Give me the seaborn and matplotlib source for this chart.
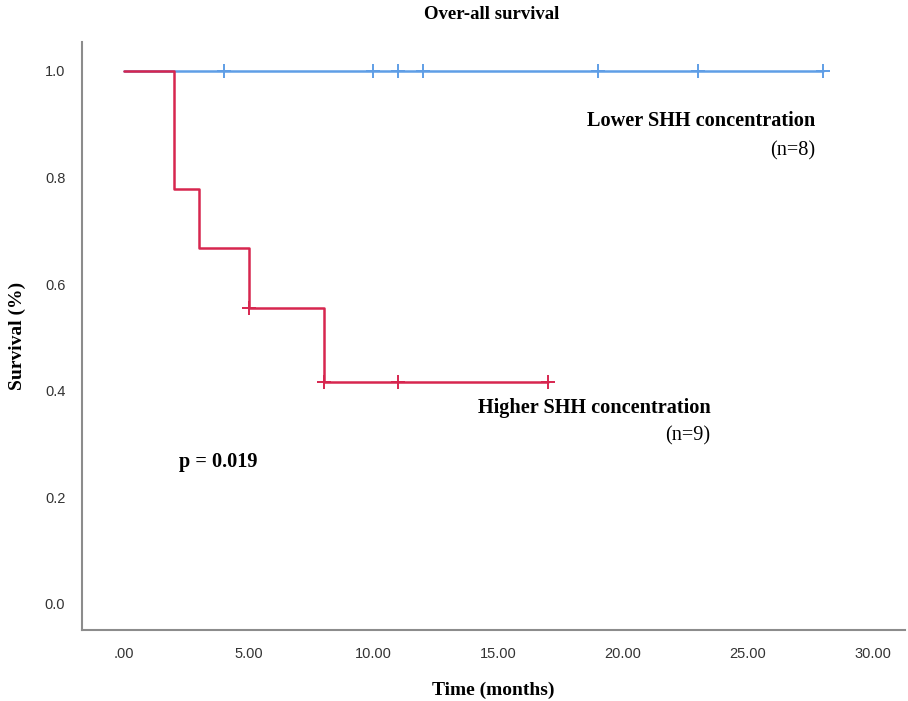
import pandas as pd
import matplotlib
matplotlib.use('Agg')
import matplotlib.pyplot as plt
import seaborn as sns

# step curves (time in months, survival)
low_time = [0, 28]
low_surv = [1.0, 1.0]
low_cens_time = [4, 10, 11, 12, 19, 23, 28]
low_cens_surv = [1.0, 1.0, 1.0, 1.0, 1.0, 1.0, 1.0]

high_time = [0, 2, 3, 5, 8, 17]
high_surv = [1.0, 0.778, 0.667, 0.556, 0.417, 0.417]
high_cens_time = [5, 8, 11, 17]
high_cens_surv = [0.556, 0.417, 0.417, 0.417]

x_ticks = [0, 5, 10, 15, 20, 25, 30]
x_labels = ['.00', '5.00', '10.00', '15.00', '20.00', '25.00', '30.00']
y_ticks = [0.0, 0.2, 0.4, 0.6, 0.8, 1.0]

blue = '#5f9ee6'
red = '#d7264f'
serif = 'Liberation Serif'
sans = 'Liberation Sans'

sns.set_style('white')
plt.rcParams['text.color'] = 'black'
plt.rcParams['axes.labelcolor'] = 'black'

fig = plt.figure(figsize=(9.08, 7.01), dpi=100)
ax = fig.add_axes([0.0903, 0.1013, 0.9064, 0.8387])

low = pd.DataFrame({'t': low_time, 's': low_surv})
high = pd.DataFrame({'t': high_time, 's': high_surv})
sns.lineplot(data=low, x='t', y='s', ax=ax, color=blue, linewidth=1.8,
             drawstyle='steps-post', estimator=None)
sns.lineplot(data=high, x='t', y='s', ax=ax, color=red, linewidth=1.8,
             drawstyle='steps-post', estimator=None)
sns.scatterplot(x=low_cens_time, y=low_cens_surv, ax=ax, marker='+', s=100,
                color=blue, linewidth=1.4, zorder=3)
sns.scatterplot(x=high_cens_time, y=high_cens_surv, ax=ax, marker='+', s=100,
                color=red, linewidth=1.4, zorder=3)

ax.set_xlim(-1.68, 31.3)
ax.set_ylim(-0.049, 1.054)
ax.set_xticks(x_ticks)
ax.set_xticklabels(x_labels)
ax.set_yticks(y_ticks)
ax.set_yticklabels([f'{v:.1f}' for v in y_ticks])
ax.tick_params(axis='both', length=0, labelsize=10.5, labelcolor='#333333', pad=12)
for lab in ax.get_xticklabels() + ax.get_yticklabels():
    lab.set_fontfamily(sans)

sns.despine(ax=ax)
for side in ['left', 'bottom']:
    ax.spines[side].set_color('#8c8c8c')
    ax.spines[side].set_linewidth(1.5)

ax.set_xlabel('Time (months)', fontsize=14, fontweight='bold', family=serif)
ax.set_ylabel('Survival (%)', fontsize=14, fontweight='bold', family=serif)
ax.xaxis.set_label_coords(0.5, -0.102)
ax.yaxis.set_label_coords(-0.078, 0.5)
ax.xaxis.label.set_va('center')
ax.yaxis.label.set_va('center')
fig.text(0.542, 0.979, 'Over-all survival', ha='center', va='center',
         fontsize=13.5, fontweight='bold', family=serif)

ax.text(27.7, 0.905, 'Lower SHH concentration', ha='right', va='center',
        fontsize=14.6, fontweight='bold', family=serif)
ax.text(27.7, 0.85, '(n=8)', ha='right', va='center', fontsize=14.6, family=serif)
ax.text(23.5, 0.367, 'Higher SHH concentration', ha='right', va='center',
        fontsize=14.6, fontweight='bold', family=serif)
ax.text(23.5, 0.316, '(n=9)', ha='right', va='center', fontsize=14.6, family=serif)
ax.text(2.2, 0.266, 'p = 0.019', ha='left', va='center',
        fontsize=14.6, fontweight='bold', family=serif)

fig.savefig('out.png', dpi=100)
